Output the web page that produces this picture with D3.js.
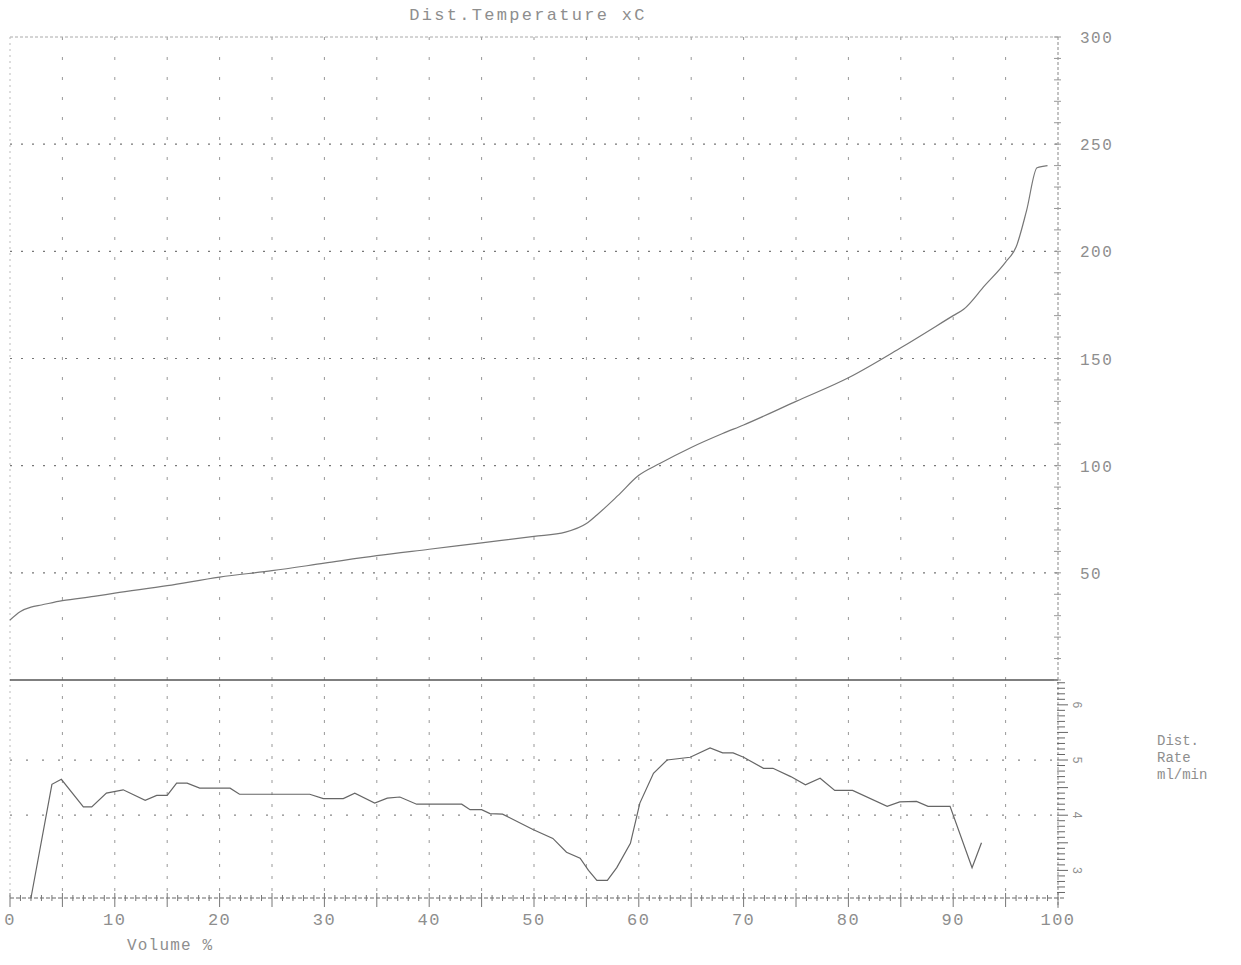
<!DOCTYPE html>
<html>
<head>
<meta charset="utf-8">
<script src="https://cdn.jsdelivr.net/npm/d3@7"></script>
<style>
  body { margin: 0; background: #fff; }
  text { font-family: "Liberation Mono", "DejaVu Sans Mono", monospace; fill: #8e8e8e; }
</style>
</head>
<body>
<svg id="chart" width="1241" height="965"></svg>
<script>
// distillation temperature (top panel)
const tempVolume = [0, 1, 2, 3, 5, 8, 10, 15, 20, 25, 30, 35, 40, 45, 50, 53, 55, 56, 58, 60, 62, 65, 68, 70, 75, 80, 85, 90, 91, 93, 95, 96, 97, 98, 99];
const temperature = [28, 32, 34, 35, 37, 39, 40.5, 44, 48, 51, 54.5, 58, 61, 64, 67, 69, 73, 77, 86, 95.5, 101, 108.5, 115, 119, 130, 141, 155, 170, 173, 184, 195, 202, 219, 239, 240];

// distillation rate (bottom panel)
const rateVolume = [2, 4, 4.9, 7, 7.8, 9.2, 10.8, 12.9, 14, 15, 15.9, 16.9, 18.1, 21, 21.9, 28.6, 29.9, 31.8, 32.9, 34.8, 36, 37.2, 38.8, 43.1, 43.9, 45, 45.8, 47, 49.9, 51.8, 53.1, 54.4, 55.2, 56, 57, 57.9, 59.2, 60.1, 61.4, 62.7, 64.9, 66.8, 68, 69, 70, 71.9, 72.8, 74.5, 75.9, 77.3, 78.7, 80.4, 83.7, 84.9, 86.5, 87.6, 89.7, 91.8, 92.7];
const rate = [2.5, 4.56, 4.65, 4.15, 4.15, 4.4, 4.46, 4.27, 4.36, 4.36, 4.58, 4.58, 4.49, 4.49, 4.38, 4.38, 4.3, 4.3, 4.4, 4.22, 4.31, 4.33, 4.2, 4.2, 4.1, 4.1, 4.03, 4.02, 3.74, 3.58, 3.33, 3.22, 3.0, 2.82, 2.82, 3.05, 3.49, 4.22, 4.76, 5.0, 5.05, 5.22, 5.13, 5.13, 5.05, 4.85, 4.85, 4.7, 4.55, 4.67, 4.45, 4.45, 4.16, 4.24, 4.25, 4.16, 4.16, 3.05, 3.5];

const xTicks = [0, 10, 20, 30, 40, 50, 60, 70, 80, 90, 100];
const tempTicks = [50, 100, 150, 200, 250, 300];
const rateTicks = [3, 4, 5, 6];

const svg = d3.select('#chart');
const grey = '#999';

const x = d3.scaleLinear().domain([0, 100]).range([10, 1058]);
const yT = d3.scaleLinear().domain([0, 300]).range([680, 37]);
const yR = d3.scaleLinear().domain([2.5, 6.45]).range([898, 680]);

// vertical grid every 5 %
const vGrid = d3.range(5, 100, 5);
svg.append('g')
  .selectAll('line')
  .data(vGrid)
  .enter()
  .append('line')
  .attr('x1', (d) => x(d)).attr('x2', (d) => x(d))
  .attr('y1', yT(300)).attr('y2', yT(0))
  .attr('stroke', grey).attr('stroke-width', 1)
  .attr('stroke-dasharray', '3,17');
svg.append('g')
  .selectAll('line')
  .data(vGrid)
  .enter()
  .append('line')
  .attr('x1', (d) => x(d)).attr('x2', (d) => x(d))
  .attr('y1', yR.range()[1] + 4).attr('y2', yR(2.5))
  .attr('stroke', grey).attr('stroke-width', 1)
  .attr('stroke-dasharray', '3,9');

// horizontal grid, top
svg.append('g')
  .selectAll('line')
  .data(tempTicks.filter((d) => d < 300))
  .enter()
  .append('line')
  .attr('x1', x(0)).attr('x2', x(100))
  .attr('y1', (d) => yT(d)).attr('y2', (d) => yT(d))
  .attr('stroke', '#777').attr('stroke-width', 1.2)
  .attr('stroke-dasharray', '2,9');

// horizontal grid, bottom
svg.append('g')
  .selectAll('line')
  .data([4, 5])
  .enter()
  .append('line')
  .attr('x1', x(0)).attr('x2', x(100))
  .attr('y1', (d) => yR(d)).attr('y2', (d) => yR(d))
  .attr('stroke', '#888').attr('stroke-width', 1.2)
  .attr('stroke-dasharray', '2,14');

// frame
svg.append('line')
  .attr('x1', x(0)).attr('x2', x(100))
  .attr('y1', yT(300)).attr('y2', yT(300))
  .attr('stroke', '#aaa').attr('stroke-dasharray', '3,2');
svg.append('line')
  .attr('x1', x(0)).attr('x2', x(0))
  .attr('y1', yT(300)).attr('y2', yR(2.5))
  .attr('stroke', '#bbb').attr('stroke-dasharray', '2,4');
svg.append('line')
  .attr('x1', x(0)).attr('x2', x(100))
  .attr('y1', yT(0)).attr('y2', yT(0))
  .attr('stroke', '#555').attr('stroke-width', 1.3);
svg.append('line')
  .attr('x1', x(0)).attr('x2', x(100) + 8)
  .attr('y1', yR(2.5)).attr('y2', yR(2.5))
  .attr('stroke', '#666').attr('stroke-width', 1.2)
  .attr('stroke-dasharray', '4,2');
svg.append('line')
  .attr('x1', x(100)).attr('x2', x(100))
  .attr('y1', yT(300)).attr('y2', yR(2.5) + 10)
  .attr('stroke', '#888').attr('stroke-width', 1)
  .attr('stroke-dasharray', '3,2');

// x axis ticks
svg.append('g')
  .selectAll('line')
  .data(d3.range(0, 101, 1))
  .enter()
  .append('line')
  .attr('x1', (d) => x(d)).attr('x2', (d) => x(d))
  .attr('y1', (d) => yR(2.5) - (d % 5 === 0 ? 5 : 3))
  .attr('y2', (d) => yR(2.5) + (d % 5 === 0 ? 9 : 3))
  .attr('stroke', '#777').attr('stroke-width', 1);

// right axis ticks
svg.append('g')
  .selectAll('line')
  .data(d3.range(0, 301, 10))
  .enter()
  .append('line')
  .attr('x1', x(100) - 4).attr('x2', x(100) + 3)
  .attr('y1', (d) => yT(d)).attr('y2', (d) => yT(d))
  .attr('stroke', '#999').attr('stroke-width', 1);
svg.append('g')
  .selectAll('line')
  .data(d3.range(2.6, 6.45, 0.1))
  .enter()
  .append('line')
  .attr('x1', x(100) - 1).attr('x2', (d, i) => x(100) + (i % 5 === 4 ? 10 : 7))
  .attr('y1', (d) => yR(d)).attr('y2', (d) => yR(d))
  .attr('stroke', '#666').attr('stroke-width', 1);

// curves
const tempLine = d3.line()
  .x((d, i) => x(tempVolume[i]))
  .y((d) => yT(d))
  .curve(d3.curveMonotoneX);
svg.append('path')
  .datum(temperature)
  .attr('fill', 'none')
  .attr('stroke', '#777').attr('stroke-width', 1.2)
  .attr('d', tempLine);

const rateLine = d3.line()
  .x((d, i) => x(rateVolume[i]))
  .y((d) => yR(d));
svg.append('path')
  .datum(rate)
  .attr('fill', 'none')
  .attr('stroke', '#666').attr('stroke-width', 1.2)
  .attr('d', rateLine);

// labels
svg.append('text')
  .attr('x', 528).attr('y', 20)
  .attr('text-anchor', 'middle')
  .style('font-size', '17px').style('letter-spacing', '2.3px')
  .text('Dist.Temperature xC');

svg.append('g')
  .selectAll('text')
  .data(xTicks)
  .enter()
  .append('text')
  .attr('x', (d) => x(d)).attr('y', 925)
  .attr('text-anchor', 'middle')
  .style('font-size', '17px').style('letter-spacing', '1.5px')
  .text((d) => d);

svg.append('text')
  .attr('x', 127).attr('y', 950)
  .style('font-size', '16px').style('letter-spacing', '1.2px')
  .text('Volume %');

svg.append('g')
  .selectAll('text')
  .data(tempTicks)
  .enter()
  .append('text')
  .attr('x', 1080).attr('y', (d) => yT(d) + 6)
  .style('font-size', '16px').style('letter-spacing', '1.5px')
  .text((d) => d);

svg.append('g')
  .selectAll('text')
  .data(rateTicks)
  .enter()
  .append('text')
  .attr('transform', (d) => 'translate(1073,' + yR(d) + ') rotate(90)')
  .attr('text-anchor', 'middle')
  .style('font-size', '12px')
  .text((d) => d);

svg.append('g')
  .selectAll('text')
  .data(['Dist.', 'Rate', 'ml/min'])
  .enter()
  .append('text')
  .attr('x', 1157).attr('y', (d, i) => 745 + i * 17)
  .style('font-size', '14px')
  .text((d) => d);
</script>
</body>
</html>
